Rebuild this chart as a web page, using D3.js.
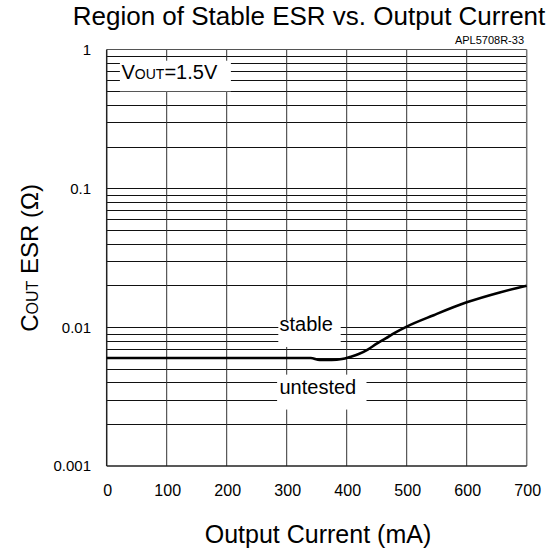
<!DOCTYPE html>
<html>
<head>
<meta charset="utf-8">
<script src="https://cdn.jsdelivr.net/npm/d3@7"></script>
<style>
  body { margin: 0; background: #fff; }
  text { font-family: "Liberation Sans", Arial, sans-serif; fill: #000; }
</style>
</head>
<body>
<script>
// ESR boundary curve (mA, ohm)
const current = [0, 100, 200, 300, 340, 355, 375, 392, 405, 420, 435, 450, 465, 480, 500, 545, 600, 655, 700];
const esr = [0.006, 0.006, 0.006, 0.006, 0.006, 0.0058, 0.0058, 0.0059, 0.0061, 0.0064, 0.0069, 0.0076, 0.0083, 0.0091, 0.0101, 0.0122, 0.0151, 0.0178, 0.0199];

const xTicks = [0, 100, 200, 300, 400, 500, 600, 700];
const yTicks = [0.001, 0.01, 0.1, 1];
const yTickLabels = ["0.001", "0.01", "0.1", "1"];

const width = 552, height = 556;
const margin = { top: 49.5, right: 25.3, bottom: 90, left: 106.7 };

const svg = d3.select("body")
  .append("svg")
    .attr("width", width)
    .attr("height", height);

const xScale = d3.scaleLinear()
  .domain([0, 700])
  .range([margin.left, width - margin.right]);

const yScale = d3.scaleLog()
  .domain([0.001, 1])
  .range([height - margin.bottom, margin.top]);

// minor log gridlines (2..9 in each decade + decade lines)
let hLines = [];
[0.001, 0.01, 0.1].forEach(d => {
  for (let k = 1; k <= 9; k++) hLines.push(d * k);
});
hLines = hLines.filter(v => v > 0.001);

svg.append("g")
  .selectAll("line")
  .data(hLines)
  .join("line")
    .attr("x1", margin.left)
    .attr("x2", width - margin.right)
    .attr("y1", d => Math.round(yScale(d)) + 0.5)
    .attr("y2", d => Math.round(yScale(d)) + 0.5)
    .attr("stroke", "#111")
    .attr("stroke-width", 1);

// vertical gridlines
svg.append("g")
  .selectAll("line")
  .data(xTicks.slice(1, -1))
  .join("line")
    .attr("x1", d => xScale(d))
    .attr("x2", d => xScale(d))
    .attr("y1", yScale(1))
    .attr("y2", yScale(0.001))
    .attr("stroke", "#333")
    .attr("stroke-width", 1);

// frame: top & right gray, left & bottom black
svg.append("line")
  .attr("x1", margin.left).attr("x2", xScale(700))
  .attr("y1", yScale(1)).attr("y2", yScale(1))
  .attr("stroke", "#555").attr("stroke-width", 1.2);
svg.append("line")
  .attr("x1", xScale(700)).attr("x2", xScale(700))
  .attr("y1", yScale(1)).attr("y2", yScale(0.001))
  .attr("stroke", "#777").attr("stroke-width", 1.5);
svg.append("line")
  .attr("x1", margin.left).attr("x2", margin.left)
  .attr("y1", yScale(1)).attr("y2", yScale(0.001))
  .attr("stroke", "#222").attr("stroke-width", 1.5);
svg.append("line")
  .attr("x1", margin.left).attr("x2", xScale(700))
  .attr("y1", yScale(0.001)).attr("y2", yScale(0.001))
  .attr("stroke", "#222").attr("stroke-width", 1.5);

// white label boxes covering the grid
function labelBox(x0, x1, y0, y1) {
  svg.append("rect")
    .attr("x", xScale(x0)).attr("width", xScale(x1) - xScale(x0))
    .attr("y", yScale(y0)).attr("height", yScale(y1) - yScale(y0))
    .attr("fill", "#fff");
}
labelBox(22, 207, 0.83, 0.5);
labelBox(286, 390, 0.0112, 0.0072);
labelBox(284, 433, 0.00455, 0.00255);

// curve
const line = d3.line()
  .x((d, i) => xScale(current[i]))
  .y((d, i) => yScale(esr[i]))
  .curve(d3.curveMonotoneX);

svg.append("path")
  .datum(esr)
  .attr("d", line)
  .attr("fill", "none")
  .attr("stroke", "#000")
  .attr("stroke-width", 2.6);

// y tick labels
svg.append("g")
  .selectAll("text")
  .data(yTicks)
  .join("text")
    .attr("x", 91)
    .attr("y", d => yScale(d))
    .attr("dy", "0.36em")
    .attr("text-anchor", "end")
    .attr("font-size", 15)
    .text((d, i) => yTickLabels[i]);

// x tick labels
svg.append("g")
  .selectAll("text")
  .data(xTicks)
  .join("text")
    .attr("x", d => xScale(d) + 1)
    .attr("y", 495.5)
    .attr("text-anchor", "middle")
    .attr("font-size", 16)
    .text(d => d);

// annotations
const vout = svg.append("text")
  .attr("x", 121.5)
  .attr("y", 78.5)
  .attr("font-size", 20);
vout.append("tspan").text("V");
vout.append("tspan").attr("font-size", 14).text("OUT");
vout.append("tspan").text("=1.5V");

svg.append("text")
  .attr("x", 279.5).attr("y", 330.7)
  .attr("font-size", 20)
  .text("stable");

svg.append("text")
  .attr("x", 279.5).attr("y", 394.3)
  .attr("font-size", 20)
  .text("untested");

svg.append("text")
  .attr("x", 524).attr("y", 44)
  .attr("text-anchor", "end")
  .attr("font-size", 11)
  .text("APL5708R-33");

// titles
svg.append("text")
  .attr("x", 309).attr("y", 25)
  .attr("text-anchor", "middle")
  .attr("font-size", 26)
  .text("Region of Stable ESR vs. Output Current");

svg.append("text")
  .attr("x", 318).attr("y", 543)
  .attr("text-anchor", "middle")
  .attr("font-size", 25)
  .text("Output Current (mA)");

const ylab = svg.append("text")
  .attr("transform", "translate(38,258) rotate(-90)")
  .attr("text-anchor", "middle")
  .attr("font-size", 24);
ylab.append("tspan").text("C");
ylab.append("tspan").attr("font-size", 16).text("OUT");
ylab.append("tspan").text(" ESR (Ω)");
</script>
</body>
</html>
